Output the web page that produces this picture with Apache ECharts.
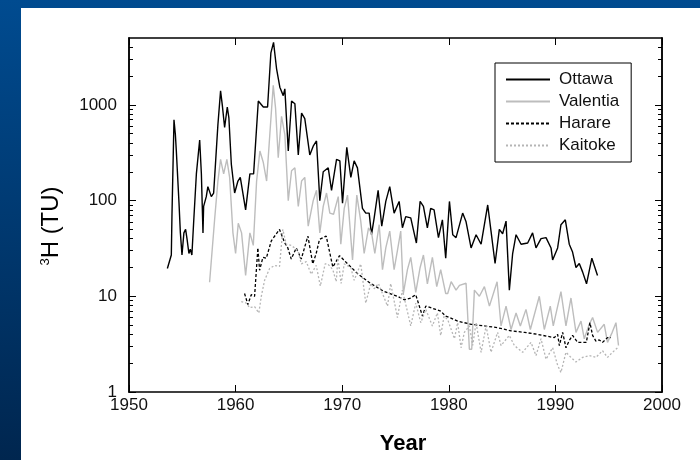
<!DOCTYPE html>
<html>
<head>
<meta charset="utf-8">
<script src="https://cdn.jsdelivr.net/npm/echarts@6/dist/echarts.min.js"></script>
<style>
  html, body { margin: 0; padding: 0; }
  #frame { position: relative; width: 700px; height: 460px; overflow: hidden;
           background: linear-gradient(to bottom, #004b90, #00264f); }
  #panel { position: absolute; left: 21px; top: 8px; right: 0; bottom: 0; background: #fff; }
  #main { position: absolute; left: 0; top: 0; width: 700px; height: 460px; }
</style>
</head>
<body>
<div id="frame">
  <div id="panel"></div>
  <div id="main"></div>
</div>
<script>
var ottawa = [
  [1953.60,19.5],[1953.97,27],[1954.03,70],[1954.22,700],[1954.35,490],[1954.44,330],[1954.69,95],[1954.82,46],
  [1954.97,27],[1955.15,46],[1955.31,50],[1955.44,40],[1955.62,28],[1955.75,31],[1955.90,27],[1956.06,58],
  [1956.32,190],[1956.63,430],[1956.79,190],[1956.94,46],[1957.00,87],[1957.25,110],[1957.40,140],[1957.56,140],
  [1957.72,110],[1957.94,120],[1958.13,260],[1958.34,620],[1958.59,1400],[1958.75,1000],[1958.97,580],[1959.22,950],
  [1959.37,730],[1959.60,240],[1959.91,120],[1960.22,160],[1960.44,175],[1960.56,180],[1960.94,80],[1961.34,190],
  [1961.69,190],[1962.13,1100],[1962.60,950],[1963.00,950],[1963.31,3500],[1963.56,4500],[1963.84,2400],[1964.15,1530],
  [1964.47,1250],[1964.62,1470],[1964.94,330],[1965.25,1100],[1965.56,1030],[1965.88,300],[1966.19,820],[1966.49,720],
  [1966.96,300],[1967.28,370],[1967.59,420],[1967.90,100],[1968.22,200],[1968.69,220],[1969.00,128],[1969.47,270],
  [1969.78,260],[1970.03,94],[1970.43,360],[1970.81,175],[1971.12,260],[1971.43,220],[1971.90,83],[1972.21,74],
  [1972.53,74],[1972.75,44],[1973.00,66],[1973.37,128],[1973.71,54],[1974.09,98],[1974.46,140],[1974.87,74],
  [1975.34,98],[1975.65,52],[1975.96,68],[1976.43,66],[1976.96,36],[1977.31,98],[1977.62,87],[1977.99,52],
  [1978.30,83],[1978.62,80],[1979.03,41],[1979.40,63],[1979.71,25],[1980.06,98],[1980.37,44],[1980.68,41],
  [1981.30,74],[1981.62,60],[1982.09,32],[1982.56,44],[1983.03,35],[1983.65,90],[1983.96,48],[1984.34,22],
  [1984.74,50],[1985.05,45],[1985.37,61],[1985.68,11.6],[1985.99,28],[1986.31,44],[1986.78,35],[1987.40,36],
  [1987.86,46],[1988.18,32],[1988.65,40],[1989.12,41],[1989.59,32],[1989.74,24],[1990.21,32],[1990.52,56],
  [1990.93,63],[1991.30,35],[1991.61,29],[1991.93,20],[1992.24,22],[1992.55,18],[1992.92,13.5],[1993.42,25],
  [1993.95,16.5]
];
var valentia = [
  [1957.56,14],[1958.03,63],[1958.34,160],[1958.59,270],[1958.88,190],[1959.18,270],[1959.44,175],[1959.75,46],
  [1960.00,28],[1960.25,58],[1960.56,46],[1960.94,16.5],[1961.34,46],[1961.66,34],[1961.97,160],[1962.28,330],
  [1962.60,250],[1962.91,160],[1963.21,490],[1963.53,1600],[1963.75,920],[1964.00,280],[1964.31,760],[1964.62,490],
  [1964.94,100],[1965.25,205],[1965.56,220],[1965.88,87],[1966.19,160],[1966.49,175],[1966.81,54],[1967.28,100],
  [1967.59,128],[1967.90,46],[1968.22,87],[1968.53,120],[1968.84,74],[1969.19,72],[1969.63,110],[1969.87,35],
  [1970.19,83],[1970.50,114],[1970.97,24],[1971.37,114],[1971.74,61],[1972.06,28],[1972.47,52],[1972.77,45],
  [1973.06,28],[1973.47,56],[1973.78,19],[1974.09,32],[1974.46,48],[1974.87,19],[1975.18,30],[1975.49,48],
  [1975.74,10.7],[1976.12,19],[1976.43,25.5],[1976.90,11],[1977.31,20],[1977.62,27],[1977.99,13.5],[1978.46,25.5],
  [1978.87,12.6],[1979.24,19],[1979.71,10.7],[1979.90,10.7],[1980.22,14.2],[1980.68,11.6],[1981.00,13],[1981.62,13.7],
  [1981.93,2.8],[1982.15,2.8],[1982.40,11.6],[1982.87,10],[1983.34,12.6],[1983.81,7.9],[1984.53,14.2],[1984.90,4.9],
  [1985.37,7.9],[1985.84,4.5],[1986.31,6.7],[1986.71,4.9],[1987.24,7.3],[1987.65,4.5],[1988.49,10],[1988.96,4.5],
  [1989.52,7.9],[1989.80,4.9],[1990.52,11.2],[1990.99,4.9],[1991.46,9.6],[1991.93,4.2],[1992.40,5.5],[1992.71,3.6],
  [1993.18,5.1],[1993.49,6],[1993.96,4.2],[1994.58,5.1],[1994.89,3.3],[1995.33,4.2],[1995.68,5.3],[1995.92,3.06]
];
var harare = [
  [1960.84,10.7],[1961.15,8.2],[1961.47,10.4],[1961.78,10],[1962.09,32],[1962.25,18.7],[1962.56,25.5],[1962.88,25],
  [1963.35,38],[1964.12,50],[1964.59,36.5],[1964.90,32],[1965.22,24.5],[1965.69,32],[1966.16,24.5],[1966.78,42.6],
  [1967.24,21.8],[1967.56,28],[1967.87,39.3],[1968.50,42.6],[1969.12,20.2],[1969.75,26.6],[1970.19,23.7],[1971.43,17.3],
  [1972.68,13.6],[1973.94,11.2],[1975.18,10],[1975.81,9.2],[1976.43,9.6],[1976.90,10.4],[1977.22,8],[1977.53,6.2],
  [1977.84,7.9],[1978.30,7.6],[1978.77,7.3],[1979.24,7],[1979.71,6.2],[1980.06,6],[1980.83,5.5],[1982.09,5.1],
  [1983.34,4.9],[1984.58,4.7],[1985.84,4.35],[1987.09,4.2],[1988.33,4],[1989.90,3.7],[1990.06,3.6],[1990.21,4],
  [1990.37,3.05],[1990.68,4.2],[1990.99,2.9],[1991.30,3.45],[1991.61,3.9],[1992.08,3.3],[1992.52,3.3],[1992.90,3.3],
  [1993.24,5.3],[1993.49,3.9],[1993.80,3.4],[1994.11,3.5],[1994.42,3.3],[1994.89,3.7],[1995.21,3.7]
];
var kaitoke = [
  [1960.53,8.8],[1961.00,8.5],[1961.31,7.6],[1961.78,7.8],[1962.18,6.7],[1962.41,10],[1962.72,14.7],[1963.19,19.5],
  [1963.66,21],[1964.12,20.5],[1964.43,50],[1964.75,35],[1965.22,34],[1965.69,31],[1965.88,29],[1966.16,21.8],
  [1966.63,23],[1967.09,17],[1967.56,21],[1967.95,12.8],[1968.40,21.8],[1968.65,21.8],[1969.12,19],[1969.44,14.2],
  [1969.60,25],[1969.90,13.6],[1970.19,21.8],[1970.81,20],[1971.12,14.7],[1971.74,21.8],[1972.21,8.5],[1972.68,13.6],
  [1973.00,12],[1973.40,13.6],[1974.25,7.9],[1974.55,13.6],[1975.18,6],[1975.65,11.6],[1976.43,4.9],[1976.90,8.5],
  [1977.37,5.3],[1977.84,7.3],[1978.46,4.9],[1978.93,6.7],[1979.24,3.9],[1979.56,6.2],[1979.90,5.7],[1980.53,3.6],
  [1980.83,5.3],[1981.15,2.9],[1981.46,4.2],[1981.93,4.9],[1982.24,3.06],[1982.56,5.3],[1983.03,2.6],[1983.50,4.9],
  [1983.96,2.6],[1984.58,4.2],[1984.90,3.06],[1985.68,3.9],[1986.15,3.06],[1986.93,2.6],[1987.71,3.3],[1988.18,2.4],
  [1988.65,3.6],[1989.12,2.2],[1989.74,2.9],[1990.21,1.9],[1990.52,1.6],[1990.99,2.6],[1991.46,2.3],[1991.93,2.06],
  [1992.55,2.3],[1993.18,2.4],[1993.80,2.3],[1994.42,2.7],[1994.89,2.3],[1995.36,2.6],[1995.83,2.9]
];
var stations = ['Ottawa', 'Valentia', 'Harare', 'Kaitoke'];
var majorTicks = [1, 10, 100, 1000];
var minorTicks = [2, 3, 4, 5, 6, 7, 8, 9, 20, 30, 40, 50, 60, 70, 80, 90,
                  200, 300, 400, 500, 600, 700, 800, 900, 2000, 3000, 4000];

var font = "'Liberation Sans', Arial, sans-serif";
var myChart = echarts.init(document.getElementById('main'));

// plain numbers, no thousands separator
function plain(v) { return String(Math.round(v)); }

function yAx(pos, ticks, len, withLabels) {
    return {
        type: 'log', logBase: 10, min: 1, max: 5000, position: pos,
        axisLine: { show: true, lineStyle: { color: '#000', width: 1.5 } },
        axisTick: { show: true, inside: true, length: len, customValues: ticks,
                    lineStyle: { color: '#000', width: 1 } },
        axisLabel: { show: withLabels, customValues: ticks, fontSize: 17, color: '#111',
                     margin: 12, fontFamily: font, formatter: plain },
        splitLine: { show: false }
    };
}

var yLeft = yAx('left', majorTicks, 7, true);
yLeft.name = '{s|3}H (TU)';
yLeft.nameLocation = 'middle';
yLeft.nameGap = 66;
yLeft.nameRotate = 90;
yLeft.nameTextStyle = {
    fontSize: 24, color: '#000', fontFamily: font,
    padding: [0, 22, 0, 0],
    rich: { s: { fontSize: 13, verticalAlign: 'top', fontFamily: font, color: '#000' } }
};

var option = {
    backgroundColor: 'transparent',
    animation: false,
    grid: { left: 129, right: 38, top: 38, bottom: 63 },
    legend: {
        orient: 'vertical', left: 495, top: 63,
        data: stations,
        borderColor: '#000', borderWidth: 1,
        padding: [8, 12, 8, 10],
        itemWidth: 44, itemHeight: 14, itemGap: 5,
        itemStyle: { opacity: 0 },
        textStyle: { fontSize: 17, color: '#111', fontFamily: font, padding: [0, 0, 0, 4] }
    },
    xAxis: [
        {
            type: 'value', min: 1950, max: 2000, interval: 10, position: 'bottom',
            axisLine: { show: true, lineStyle: { color: '#000', width: 1.5 } },
            axisTick: { inside: true, length: 7, lineStyle: { color: '#000' } },
            axisLabel: { fontSize: 17, color: '#111', margin: 5, fontFamily: font, formatter: plain },
            splitLine: { show: false },
            name: 'Year', nameLocation: 'middle', nameGap: 41,
            nameTextStyle: { fontSize: 22, fontWeight: 'bold', color: '#000', fontFamily: font,
                             padding: [0, 0, 0, 15] }
        },
        {
            type: 'value', min: 1950, max: 2000, interval: 10, position: 'top',
            axisLine: { show: true, lineStyle: { color: '#000', width: 1.5 } },
            axisTick: { inside: true, length: 7, lineStyle: { color: '#000' } },
            axisLabel: { show: false },
            splitLine: { show: false }
        }
    ],
    yAxis: [
        yLeft,
        yAx('left', minorTicks, 4, false),
        yAx('right', majorTicks, 7, false),
        yAx('right', minorTicks, 4, false)
    ],
    series: [
        { name: 'Ottawa', type: 'line', data: ottawa, symbol: 'none',
          lineStyle: { color: '#000', width: 1.4 }, itemStyle: { color: '#000' } },
        { name: 'Valentia', type: 'line', data: valentia, symbol: 'none',
          lineStyle: { color: '#bdbdbd', width: 1.4 }, itemStyle: { color: '#bdbdbd' } },
        { name: 'Harare', type: 'line', data: harare, symbol: 'none',
          lineStyle: { color: '#000', width: 1.3, type: [3, 2] }, itemStyle: { color: '#000' } },
        { name: 'Kaitoke', type: 'line', data: kaitoke, symbol: 'none',
          lineStyle: { color: '#b5b5b5', width: 1.3, type: [2, 2] }, itemStyle: { color: '#b5b5b5' } }
    ]
};
myChart.setOption(option);
</script>
</body>
</html>
